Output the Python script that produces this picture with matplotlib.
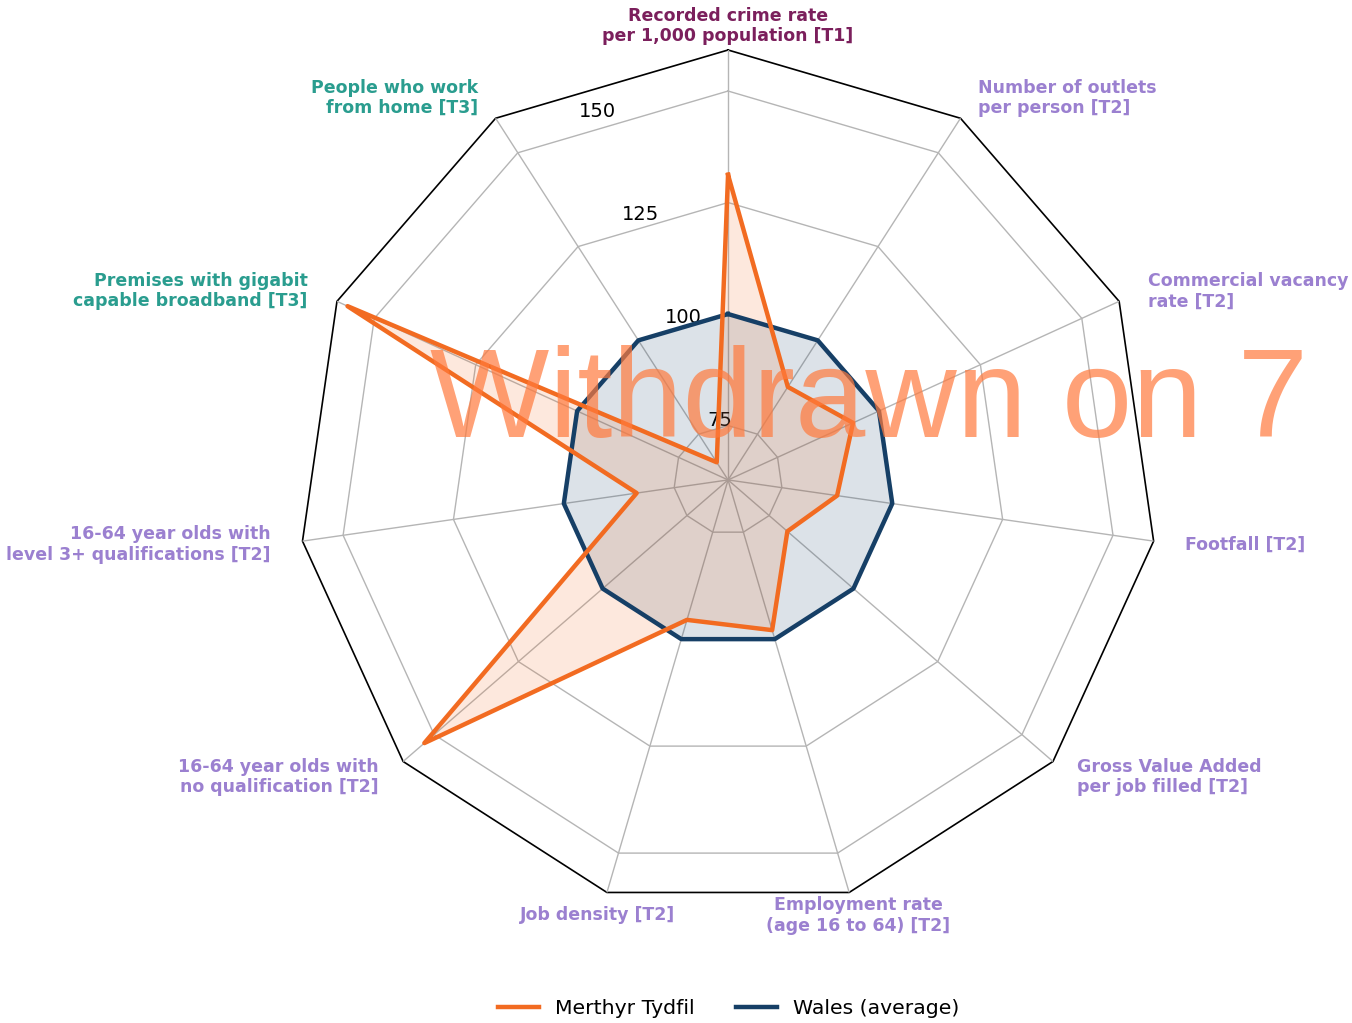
import numpy as np
import matplotlib
matplotlib.use("Agg")
import matplotlib.pyplot as plt
from matplotlib.transforms import ScaledTranslation

# ---------------- data ----------------
categories = [
    "Recorded crime rate\nper 1,000 population [T1]",
    "Number of outlets\nper person [T2]",
    "Commercial vacancy\nrate [T2]",
    "Footfall [T2]",
    "Gross Value Added\nper job filled [T2]",
    "Employment rate\n(age 16 to 64) [T2]",
    "Job density [T2]",
    "16-64 year olds with\nno qualification [T2]",
    "16-64 year olds with\nlevel 3+ qualifications [T2]",
    "Premises with gigabit\ncapable broadband [T3]",
    "People who work\nfrom home [T3]",
]
tiers = ["T1", "T2", "T2", "T2", "T2", "T2", "T2", "T2", "T2", "T3", "T3"]
merthyr = [131.2, 87.6, 93.6, 87.5, 80.4, 97.9, 95.5, 152.9, 83.5, 156.6, 67.5]
wales = [100, 100, 100, 100, 100, 100, 100, 100, 100, 100, 100]
r_ticks = [75, 100, 125, 150]
r_limits = (62.8, 159.2)
series_names = ["Merthyr Tydfil", "Wales (average)"]
watermark = "Withdrawn on 7"

tier_colors = {"T1": "#7B1F5C", "T2": "#9B80D0", "T3": "#2A9D8F"}
c_merthyr = "#F26B21"
c_wales = "#163F66"
grid_c = "#b5b5b5"

# ---------------- figure ----------------
fig = plt.figure(figsize=(13.52, 10.23), dpi=100)
ax = fig.add_axes([0.2205, 0.1105, 0.636, 0.8407], projection="polar")
ax.set_theta_offset(np.pi / 2)
ax.set_theta_direction(-1)

N = len(categories)
angles = np.linspace(0, 2 * np.pi, N, endpoint=False)
ang_c = np.concatenate([angles, angles[:1]])

ax.set_ylim(*r_limits)
ax.set_xticks(angles)
ax.set_xticklabels([])
ax.xaxis.grid(True, color=grid_c, lw=1.0)
ax.yaxis.grid(False)
ax.spines["polar"].set_visible(False)
ax.set_yticks(r_ticks)
ax.set_yticklabels([str(t) for t in r_ticks], fontsize=14)
ax.set_rlabel_position(360 - 22.5)
ax.tick_params(axis="y", pad=2)

# polygonal grid
for t in r_ticks:
    ax.plot(ang_c, [t] * (N + 1), color=grid_c, lw=1.0, zorder=1)
ax.plot(ang_c, [r_limits[1]] * (N + 1), color="black", lw=1.2, zorder=1, clip_on=False)

# series
w_c = wales + wales[:1]
m_c = merthyr + merthyr[:1]
ax.fill(ang_c, w_c, color=c_wales, alpha=0.15, zorder=2)
lw_, = ax.plot(ang_c, w_c, color=c_wales, lw=3.2, zorder=3, label=series_names[1])
ax.fill(ang_c, m_c, color=c_merthyr, alpha=0.15, zorder=2)
lm_, = ax.plot(ang_c, m_c, color=c_merthyr, lw=3.2, zorder=4, label=series_names[0])

# category labels
for ang, lab, tier in zip(angles, categories, tiers):
    phi = np.pi / 2 - ang
    cx, cy = np.cos(phi), np.sin(phi)
    if abs(cx) < 0.35:
        ha = "center"
    elif cx > 0:
        ha = "left"
    else:
        ha = "right"
    off = ScaledTranslation(0.32 * cx, 0.24 * cy, fig.dpi_scale_trans)
    ax.text(ang, r_limits[1], lab, transform=ax.transData + off,
            ha=ha, va="center", fontsize=12.5, fontweight="bold",
            color=tier_colors[tier], linespacing=1.15)

# legend
fig.legend(handles=[lm_, lw_], labels=series_names, loc="lower center",
           bbox_to_anchor=(0.539, -0.013), ncol=2, frameon=False, fontsize=14.7,
           handlelength=2.0, handletextpad=0.8, columnspacing=2.0)

# watermark
fig.text(430 / 1352, 1 - 437 / 1023, watermark, ha="left", va="baseline",
         fontsize=91, family="Liberation Sans", color="#FF7A3D", alpha=0.7,
         zorder=10)

fig.savefig("out.png", dpi=100)
